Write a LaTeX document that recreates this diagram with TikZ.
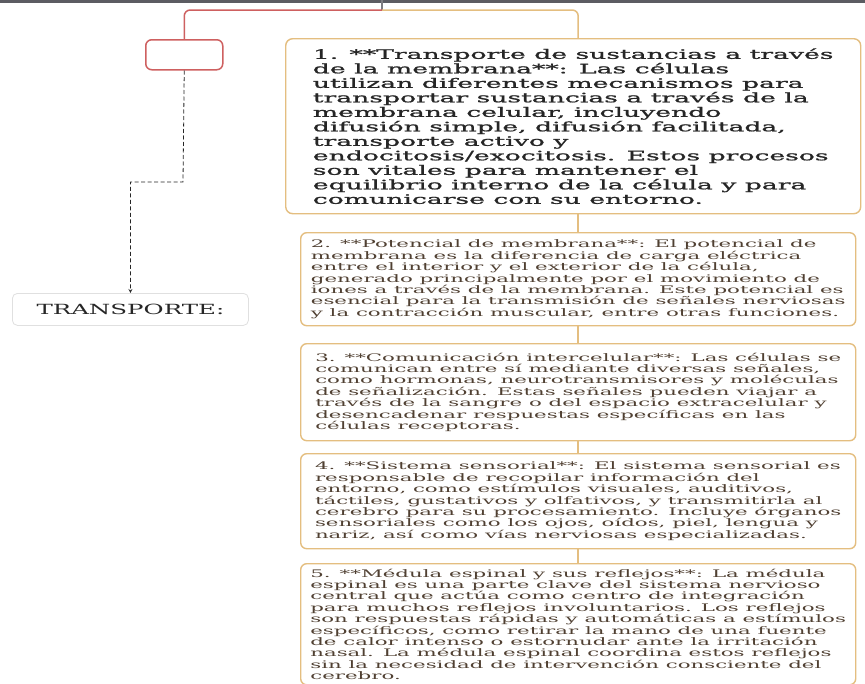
\documentclass[tikz,border=0pt]{standalone}
\usepackage{fontspec}
\usepackage{tikz}
\newfontfamily\leadfont[FakeStretch=2.05,FakeBold=1.2]{DejaVu Serif}
\newfontfamily\itemfont[FakeStretch=2.05]{DejaVu Serif}
\newfontfamily\titlefont[FakeStretch=1.75]{DejaVu Serif}
\definecolor{redline}{RGB}{206,96,96}
\definecolor{tanline}{RGB}{228,190,128}
\definecolor{itemtext}{RGB}{80,64,50}
\definecolor{leadtext}{RGB}{38,38,38}
\definecolor{topbar}{RGB}{92,92,98}
\tikzstyle{arrow} = [->,>=stealth]
\tikzstyle{leadbox} = [draw=tanline,line width=1.4pt,rounded corners=7pt,fill=white,anchor=north west,align=left,text=leadtext,font={\leadfont\fontsize{13}{14.5}\selectfont}]
\tikzstyle{itembox} = [draw=tanline,line width=1.4pt,rounded corners=6pt,fill=white,anchor=north west,align=left,text=itemtext,font={\itemfont\fontsize{10.4}{11.4}\selectfont}]
\tikzstyle{redbranch} = [draw=redline,line width=1.5pt,rounded corners=6pt]
\tikzstyle{tanbranch} = [draw=tanline,line width=1.5pt,rounded corners=6pt]

\begin{document}
\begin{tikzpicture}[x=1pt,y=-1pt]
        \useasboundingbox (0,0) rectangle (865,683);
        \clip (0,0) rectangle (865,683);
        \fill[white] (0,0) rectangle (865,683);
        \draw[topbar, line width=3pt] (0,1.5) -- (865,1.5);

        \coordinate (top) at (382,0);
        \coordinate (hub) at (382,10);
        \coordinate (kink) at (183,182);

        \node[redbranch, fill=white, anchor=north west, minimum width=77pt, minimum height=30pt] at (145,39) (topic) {};
        \node[draw=black!12, line width=0.8pt, rounded corners=5pt, fill=white, anchor=north west, minimum width=236pt, minimum height=32pt, text=leadtext, font={\titlefont\fontsize{14}{16}\selectfont}] at (12,293) (trans) {TRANSPORTE:};

        \node[leadbox, minimum width=575pt, minimum height=175pt] at (285,38) (box1) {1. **Transporte de sustancias a través\\de la membrana**: Las células\\utilizan diferentes mecanismos para\\transportar sustancias a través de la\\membrana celular, incluyendo\\difusión simple, difusión facilitada,\\transporte activo y\\endocitosis/exocitosis. Estos procesos\\son vitales para mantener el\\equilibrio interno de la célula y para\\comunicarse con su entorno.};
        \node[itembox, minimum width=555pt, minimum height=93pt] at (300,232) (box2) {2. **Potencial de membrana**: El potencial de\\membrana es la diferencia de carga eléctrica\\entre el interior y el exterior de la célula,\\generado principalmente por el movimiento de\\iones a través de la membrana. Este potencial es\\esencial para la transmisión de señales nerviosas\\y la contracción muscular, entre otras funciones.};
        \node[itembox, minimum width=555pt, minimum height=97pt] at (300,343) (box3) {3. **Comunicación intercelular**: Las células se\\comunican entre sí mediante diversas señales,\\como hormonas, neurotransmisores y moléculas\\de señalización. Estas señales pueden viajar a\\través de la sangre o del espacio extracelular y\\desencadenar respuestas específicas en las\\células receptoras.};
        \node[itembox, minimum width=555pt, minimum height=95pt] at (300,453) (box4) {4. **Sistema sensorial**: El sistema sensorial es\\responsable de recopilar información del\\entorno, como estímulos visuales, auditivos,\\táctiles, gustativos y olfativos, y transmitirla al\\cerebro para su procesamiento. Incluye órganos\\sensoriales como los ojos, oídos, piel, lengua y\\nariz, así como vías nerviosas especializadas.};
        \node[itembox, minimum width=555pt, inner ysep=5pt] at (300,563) (box5) {5. **Médula espinal y sus reflejos**: La médula\\espinal es una parte clave del sistema nervioso\\central que actúa como centro de integración\\para muchos reflejos involuntarios. Los reflejos\\son respuestas rápidas y automáticas a estímulos\\específicos, como retirar la mano de una fuente\\de calor intenso o estornudar ante la irritación\\nasal. La médula espinal coordina estos reflejos\\sin la necesidad de intervención consciente del\\cerebro.};

        \draw[topbar!80, line width=1.5pt] (top) -- (hub);
        \draw[redbranch] (hub) -| (topic.north);
        \draw[tanbranch] (hub) -| (box2.north |- box1.north);
        \draw[tanbranch] (box2.north |- box1.south) -- (box2.north);
        \draw[tanbranch] (box2.south) -- (box3.north);
        \draw[tanbranch] (box3.south) -- (box4.north);
        \draw[tanbranch] (box4.south) -- (box5.north);
        \draw[arrow, black!85, line width=0.8pt, dash pattern=on 4pt off 2.5pt] (topic.south) -- (kink) -| (trans.north);
    \end{tikzpicture}
\end{document}
